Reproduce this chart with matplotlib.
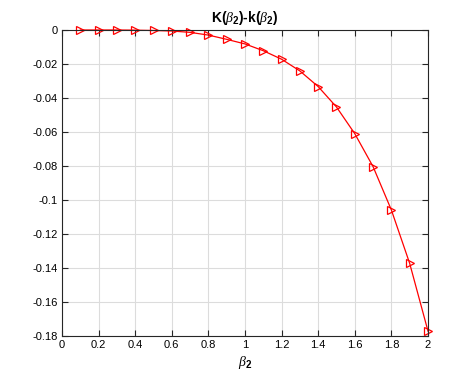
import matplotlib
matplotlib.use("Agg")
import matplotlib.pyplot as plt

plt.rcParams["font.family"] = ["Liberation Sans", "DejaVu Sans"]
plt.rcParams["mathtext.fontset"] = "custom"
plt.rcParams["mathtext.it"] = "Liberation Serif:italic"
plt.rcParams["mathtext.rm"] = "Liberation Sans"
plt.rcParams["mathtext.bf"] = "Liberation Sans:bold"

beta2 = [0.1, 0.2, 0.3, 0.4, 0.5, 0.6, 0.7, 0.8, 0.9, 1.0,
         1.1, 1.2, 1.3, 1.4, 1.5, 1.6, 1.7, 1.8, 1.9, 2.0]
diff = [0.0, 0.0, 0.0, -0.0001, -0.0003, -0.0006, -0.0014, -0.003, -0.0055, -0.0082,
        -0.0122, -0.0172, -0.0241, -0.0333, -0.0453, -0.061, -0.0804, -0.1059, -0.1373, -0.1771]

xticks = [0, 0.2, 0.4, 0.6, 0.8, 1, 1.2, 1.4, 1.6, 1.8, 2]
xticklabels = ["0", "0.2", "0.4", "0.6", "0.8", "1", "1.2", "1.4", "1.6", "1.8", "2"]
yticks = [0, -0.02, -0.04, -0.06, -0.08, -0.1, -0.12, -0.14, -0.16, -0.18]
yticklabels = ["0", "-0.02", "-0.04", "-0.06", "-0.08", "-0.1", "-0.12", "-0.14", "-0.16", "-0.18"]

fig = plt.figure(figsize=(4.57, 3.82), dpi=100)
ax = fig.add_axes([0.1357, 0.1204, 0.8008, 0.8011])

ax.plot(beta2, diff, color="red", linewidth=0.9, marker=">", markersize=6,
        markerfacecolor="none", markeredgecolor="red", markeredgewidth=0.9, clip_on=False)

ax.set_xlim(0, 2)
ax.set_ylim(-0.18, 0)
ax.set_xticks(xticks)
ax.set_xticklabels(xticklabels)
ax.set_yticks(yticks)
ax.set_yticklabels(yticklabels)
ax.tick_params(direction="in", top=True, right=True, length=4, width=0.8,
               labelsize=8, colors="#262626", labelcolor="black", pad=3)
ax.grid(True, color="#dcdcdc", linewidth=0.8)
ax.set_axisbelow(True)
for s in ax.spines.values():
    s.set_linewidth(0.8)
    s.set_color("#262626")

ax.set_xlabel(r"$\mathit{\beta}_\mathbf{2}$", fontsize=10, labelpad=3)
ax.set_title(r"K($\mathit{\beta}_\mathbf{2}$)-k($\mathit{\beta}_\mathbf{2}$)", fontsize=10,
             fontweight="bold", pad=6)

fig.savefig("out.png", dpi=100)
